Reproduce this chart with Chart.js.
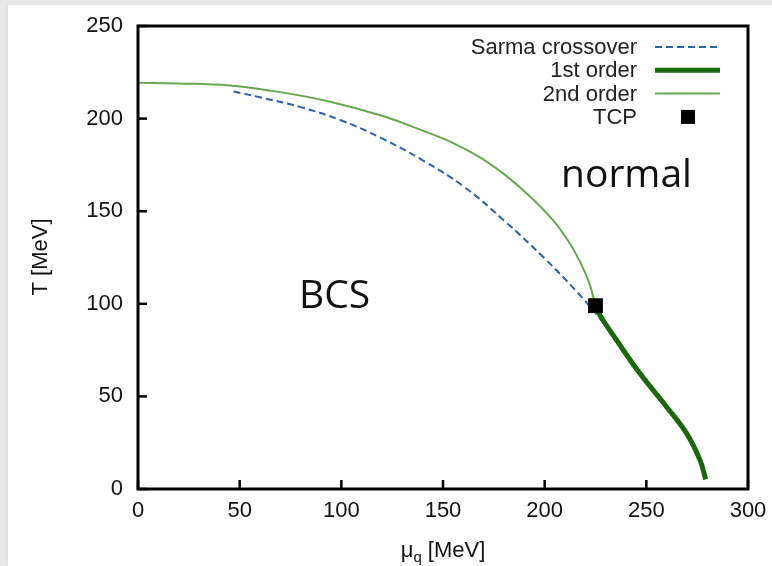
<!DOCTYPE html>
<html>
<head>
<meta charset="utf-8">
<script src="https://cdn.jsdelivr.net/npm/chart.js@4.4.1/dist/chart.umd.min.js"></script>
<style>
  html, body { margin: 0; padding: 0; }
  body { width: 772px; height: 566px; background: #e8e8e8; position: relative; overflow: hidden; }
  #card { position: absolute; left: 8px; top: 5px; right: 0; bottom: 0; background: #fff; box-shadow: 0 0 4px rgba(0,0,0,0.08); }
  #wrap { position: absolute; left: 0; top: 0; width: 772px; height: 566px; }
</style>
</head>
<body>
<div id="card"></div>
<div id="wrap"><canvas id="phase-chart"></canvas></div>
<script>
// values: mu_q [MeV] and T [MeV]
const sarmaMu = [47, 60, 80, 100, 120, 140, 160, 180, 200, 215, 225, 230.5];
const sarmaT = [214.6, 211.5, 206.2, 199.0, 189.3, 177.5, 163.5, 145.0, 124.5, 107.5, 95.0, 87.4];

const secondMu = [0, 20, 45, 70, 95, 120, 140, 155, 168, 180, 192, 204, 212, 218, 222, 225];
const secondT = [219.3, 219.0, 217.9, 214.3, 209.0, 201.5, 193.5, 186.8, 179.2, 170.0, 158.8, 145.3, 133.2, 121.3, 111.0, 99.0];

const firstMu = [225, 227.2, 235.4, 246.9, 260, 269.8, 276.4, 279.2];
const firstT = [99.0, 93.8, 80.3, 62.3, 44.3, 30.0, 15.6, 5.2];

const tcpMu = [225];
const tcpT = [99];

const xTicks = [0, 50, 100, 150, 200, 250, 300];
const yTicks = [0, 50, 100, 150, 200, 250];

const legendLabels = ["Sarma crossover", "1st order", "2nd order", "TCP"];

function toPoints(xs, ys) {
  return xs.map((x, i) => ({ x: x, y: ys[i] }));
}

const tickFont = { family: "'Liberation Sans', Arial, sans-serif", size: 22 };

// frame, inward ticks, legend, axis titles and region labels
const decorPlugin = {
  id: "decor",
  afterDatasetsDraw(chart) {
    const ctx = chart.ctx;
    const area = chart.chartArea;
    const xs = chart.scales.x;
    const ys = chart.scales.y;

    ctx.save();
    ctx.strokeStyle = "#000";
    ctx.lineWidth = 2.5;
    xTicks.forEach(v => {
      const px = xs.getPixelForValue(v);
      ctx.beginPath();
      ctx.moveTo(px, area.bottom);
      ctx.lineTo(px, area.bottom - 9);
      ctx.stroke();
    });
    yTicks.forEach(v => {
      const py = ys.getPixelForValue(v);
      ctx.beginPath();
      ctx.moveTo(area.left, py);
      ctx.lineTo(area.left + 9, py);
      ctx.stroke();
    });
    ctx.lineWidth = 3;
    ctx.strokeRect(area.left, area.top, area.right - area.left, area.bottom - area.top);

    // legend: text right aligned, sample to the right
    const ds = chart.data.datasets;
    const textRight = 637;
    const sampleL = 655;
    const sampleR = 720;
    ctx.font = "22px 'Liberation Sans', Arial, sans-serif";
    ctx.textAlign = "right";
    ctx.textBaseline = "middle";
    ds.forEach((d, row) => {
      const y = 47 + row * 23.3;
      ctx.fillStyle = "#222";
      ctx.fillText(d.label, textRight, y + 1);
      if (d.showLine === false) {
        ctx.fillStyle = d.backgroundColor;
        ctx.fillRect(681, y - 7, 14, 14);
      } else {
        ctx.strokeStyle = d.borderColor;
        ctx.lineWidth = d.borderWidth;
        ctx.setLineDash(d.borderDash || []);
        ctx.beginPath();
        ctx.moveTo(sampleL, y);
        ctx.lineTo(sampleR, y);
        ctx.stroke();
        ctx.setLineDash([]);
      }
    });

    // axis titles
    ctx.fillStyle = "#111";
    ctx.textAlign = "center";
    ctx.save();
    ctx.translate(41, 257);
    ctx.rotate(-Math.PI / 2);
    ctx.font = "22px 'Liberation Sans', Arial, sans-serif";
    ctx.fillText("T [MeV]", 0, 0);
    ctx.restore();

    ctx.textAlign = "left";
    ctx.textBaseline = "alphabetic";
    ctx.font = "22px 'Liberation Sans', Arial, sans-serif";
    const muW = ctx.measureText("\u03bc").width;
    const restW = ctx.measureText(" [MeV]").width;
    ctx.font = "15px 'Liberation Sans', Arial, sans-serif";
    const qW = ctx.measureText("q").width;
    const x0 = 443 - (muW + qW + restW) / 2;
    const base = 557;
    ctx.font = "22px 'Liberation Sans', Arial, sans-serif";
    ctx.fillText("\u03bc", x0, base);
    ctx.font = "15px 'Liberation Sans', Arial, sans-serif";
    ctx.fillText("q", x0 + muW, base + 5);
    ctx.font = "22px 'Liberation Sans', Arial, sans-serif";
    ctx.fillText(" [MeV]", x0 + muW + qW, base);

    // region labels
    ctx.font = "39px 'Open Sans', 'Noto Sans', sans-serif";
    ctx.fillStyle = "#111";
    ctx.fillText("BCS", 299, 308);
    ctx.fillText("normal", 561, 187);
    ctx.restore();
  }
};

new Chart(document.getElementById("phase-chart"), {
  type: "line",
  data: {
    datasets: [
      {
        label: legendLabels[0],
        data: toPoints(sarmaMu, sarmaT),
        borderColor: "#2762ab",
        borderWidth: 2,
        borderDash: [7, 4],
        pointRadius: 0,
        tension: 0.4,
        order: 4
      },
      {
        label: legendLabels[1],
        data: toPoints(firstMu, firstT),
        borderColor: "#1a680b",
        borderWidth: 5,
        pointRadius: 0,
        tension: 0.4,
        order: 2
      },
      {
        label: legendLabels[2],
        data: toPoints(secondMu, secondT),
        borderColor: "#67a84c",
        borderWidth: 2,
        pointRadius: 0,
        tension: 0.4,
        order: 3
      },
      {
        label: legendLabels[3],
        data: toPoints(tcpMu, tcpT),
        showLine: false,
        pointStyle: "rect",
        pointRadius: 10.5,
        backgroundColor: "#000",
        borderColor: "#000",
        borderWidth: 0,
        order: 1
      }
    ]
  },
  options: {
    responsive: true,
    maintainAspectRatio: false,
    animation: false,
    layout: {
      padding: { top: 26, right: 24, left: 0, bottom: 0 }
    },
    plugins: {
      legend: { display: false },
      tooltip: { enabled: false }
    },
    scales: {
      x: {
        type: "linear",
        min: 0,
        max: 300,
        grid: { display: false, drawTicks: false },
        border: { display: false },
        ticks: {
          stepSize: 50,
          padding: 9,
          color: "#111",
          font: tickFont,
          maxRotation: 0
        },
        afterFit: scale => {
          scale.height = 77;
          scale.paddingLeft = 0;
          scale.paddingRight = 0;
        }
      },
      y: {
        type: "linear",
        min: 0,
        max: 250,
        grid: { display: false, drawTicks: false },
        border: { display: false },
        ticks: {
          stepSize: 50,
          padding: 15,
          color: "#111",
          font: tickFont
        },
        afterFit: scale => {
          scale.width = 138;
          scale.paddingTop = 0;
          scale.paddingBottom = 0;
        }
      }
    }
  },
  plugins: [decorPlugin]
});
</script>
</body>
</html>
